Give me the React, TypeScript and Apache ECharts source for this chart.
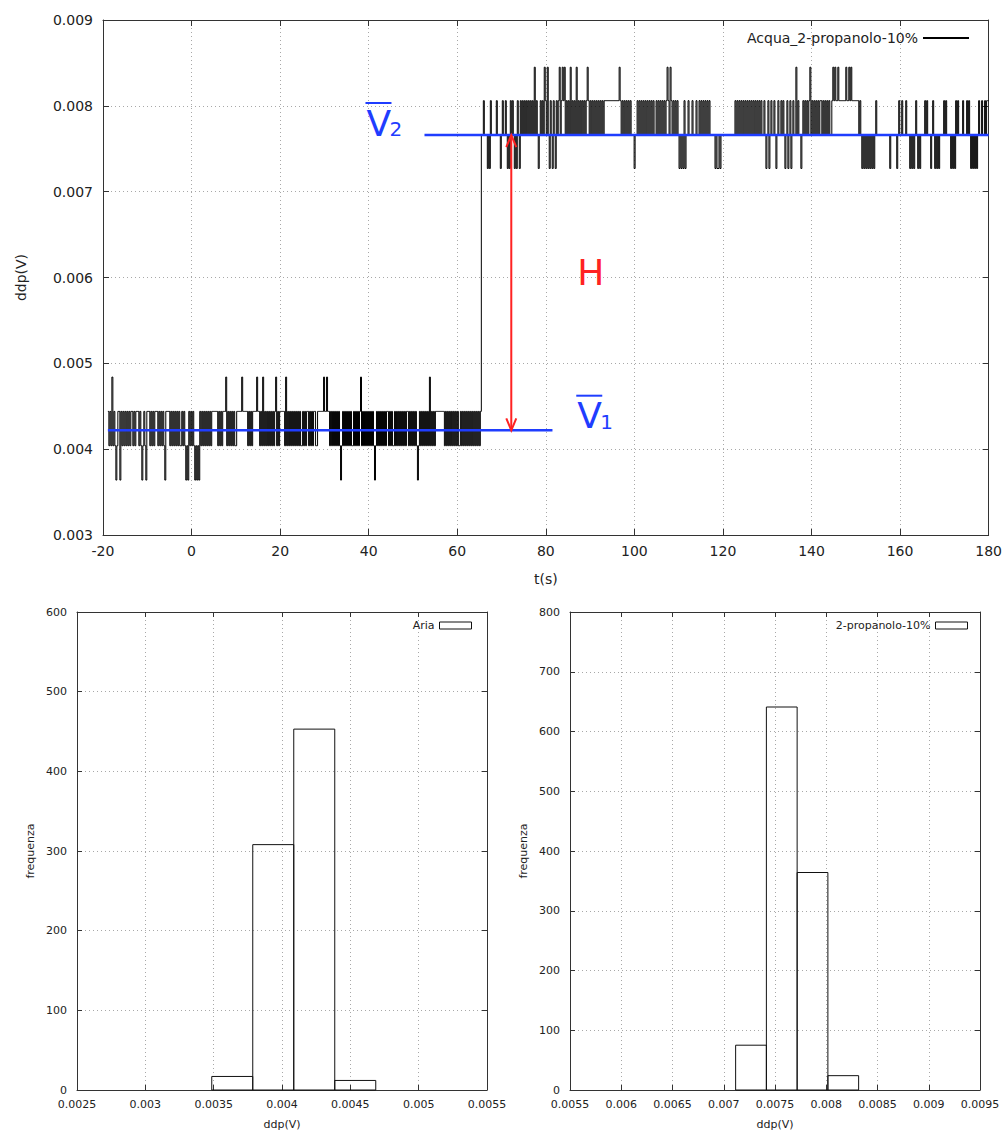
import React, { useEffect, useRef } from "react";
import * as echarts from "echarts";

// ---------- DATA ----------
// Time axis sampling of the recorded signal
const T_START = -18.9;
const T_STEP = 0.2255;

// Quantised voltage levels (V) in the two phases
const LEVELS_AIR = [0.00364, 0.00404, 0.00444, 0.00484];
const LEVELS_PROP = [0.00727, 0.00766, 0.00806, 0.00845];

// Level codes (one char per sample)
const CODES_AIR = [
  "2121312101", "2202121212", "1212212122", "2121012102", "2212121222",
  "1212121022", "2212121212", "1211212101", "0212121010", "1021212121",
  "2121222222", "1212122231", "2121212112", "2222322222", "1212122223",
  "2212131212", "1212121231", "2122222131", "2121212121", "2121121212",
  "2121212211", "2222223223", "2212121212", "1210121212", "1212112121",
  "2123121212", "1212121012", "1212121212", "2121211212", "1212121212",
  "2121212121", "0121212121", "2131212122", "2222222121", "2121212121",
  "2112121212", "1212121212", "1212",
].join("");

const CODES_PROP = [
  "1121110102", "1111121110", "1211210102", "1210102102", "1212121212",
  "1213121012", "1213213102", "1021021231", "2323121213", "1212131212",
  "1212123212", "1212121212", "1212222222", "2222222232", "1212121212",
  "1110112121", "2121212121", "2121121212", "1212123213", "2121212101",
  "0102011211", "1211121121", "2121212121", "1111010010", "1111111111",
  "1111212121", "2121212121", "2121212121", "2112101201", "2112101211",
  "2121012012", "0121131211", "0121212123", "1212121212", "2121212121",
  "1232322322", "2222232232", "3222222212", "1010101010", "1010121111",
  "1111111110", "1111110121", "1211121110", "1010121010", "1111212111",
  "0121010101", "1112121111", "0101021211", "1121112121", "0101010121",
  "121121222",
].join("");

// Mean levels
const V1 = 0.00422;
const V1_RANGE = [-18.9, 81.5];
const V2 = 0.00766;
const V2_RANGE = [52.6, 180];
const ARROW_T = 72.2;

// Annotations
const ANNOT_X = [39.5, 87.1, 87.1];
const ANNOT_Y = [0.0078, 0.00439, 0.00606];
const ANNOT_MAIN = ["V", "V", "H"];
const ANNOT_SUB = ["2", "1", ""];
const ANNOT_BAR = [true, true, false];

// Histograms
const AIR_EDGES = [0.003486, 0.003786, 0.004086, 0.004386, 0.004686];
const AIR_COUNTS = [17, 308, 453, 12];
const PROP_EDGES = [0.007116, 0.007416, 0.007716, 0.008016, 0.008316];
const PROP_COUNTS = [75, 641, 364, 24];

const SERIES_NAME = "Acqua_2-propanolo-10%";
const AIR_NAME = "Aria";
const PROP_NAME = "2-propanolo-10%";

// ---------- BUILD ----------
const FONT = "DejaVu Sans";
const BLUE = "#1f3dff";
const RED = "#ff2222";

function buildTrace(): number[][] {
  const out: number[][] = [];
  let i = 0;
  for (const c of CODES_AIR) {
    out.push([T_START + i * T_STEP, LEVELS_AIR[+c]]);
    i++;
  }
  for (const c of CODES_PROP) {
    out.push([T_START + i * T_STEP, LEVELS_PROP[+c]]);
    i++;
  }
  return out;
}

function histData(edges: number[], counts: number[]) {
  return counts.map((c, i) => [edges[i], edges[i + 1], c]);
}

const fmt = (v: number) => String(+v.toFixed(5));

function axisPair(
  grid: number,
  min: number,
  max: number,
  interval: number,
  fontSize: number,
  tickLen: number,
  name: string,
  nameGap: number,
  isX: boolean,
  labelFmt: (v: number) => string
) {
  const common = {
    gridIndex: grid,
    type: "value",
    min,
    max,
    interval,
    axisLine: { show: true, onZero: false, lineStyle: { color: "#333", width: 1 } },
    axisTick: { show: true, inside: true, length: tickLen, lineStyle: { color: "#333" } },
  };
  const main = {
    ...common,
    position: isX ? "bottom" : "left",
    name,
    nameLocation: "middle",
    nameGap,
    nameRotate: isX ? 0 : 90,
    nameTextStyle: { fontFamily: FONT, fontSize, color: "#222" },
    axisLabel: {
      fontFamily: FONT,
      fontSize,
      color: "#222",
      margin: isX ? 9 : 10,
      formatter: labelFmt,
    },
    splitLine: { show: true, lineStyle: { color: "#a8a8a8", type: [1, 3], width: 1 } },
  };
  const mirror = {
    ...common,
    position: isX ? "top" : "right",
    axisLabel: { show: false },
    splitLine: { show: false },
  };
  return [main, mirror];
}

export default function App() {
  const ref = useRef<HTMLDivElement>(null);

  useEffect(() => {
    document.body.style.margin = "0";
    if (!ref.current) return;
    const chart = echarts.init(ref.current, undefined, { renderer: "svg" });

    const [x0, x1] = axisPair(0, -20, 180, 20, 14, 6, "t(s)", 37, true, (v) => String(v));
    const [y0, y1] = axisPair(0, 0.003, 0.009, 0.001, 14, 6, "ddp(V)", 75, false, (v) => v.toFixed(3));
    const [x2, x3] = axisPair(1, 0.0025, 0.0055, 0.0005, 11, 5, "ddp(V)", 29, true, fmt);
    const [y2, y3] = axisPair(1, 0, 600, 100, 11, 5, "frequenza", 41, false, (v) => String(v));
    const [x4, x5] = axisPair(2, 0.0055, 0.0095, 0.0005, 11, 5, "ddp(V)", 29, true, fmt);
    const [y4, y5] = axisPair(2, 0, 800, 100, 11, 5, "frequenza", 41, false, (v) => String(v));

    const histRender = (params: any, api: any) => {
      const a = api.coord([api.value(0), api.value(2)]);
      const b = api.coord([api.value(1), 0]);
      return {
        type: "rect",
        shape: { x: a[0], y: a[1], width: b[0] - a[0], height: b[1] - a[1] },
        style: { fill: "none", stroke: "#111", lineWidth: 1 },
      };
    };

    const textStyle = (text: string, size: number, color: string) => ({
      text,
      fontSize: size,
      fontFamily: FONT,
      fill: color,
      textAlign: "left",
      textVerticalAlign: "middle",
      align: "left",
      verticalAlign: "middle",
    });

    const option: any = {
      animation: false,
      backgroundColor: "#fff",
      grid: [
        { left: 103, top: 20, width: 887, height: 515 },
        { left: 77, top: 612, width: 410, height: 478 },
        { left: 570, top: 612, width: 410, height: 478 },
      ],
      xAxis: [x0, x1, x2, x3, x4, x5],
      yAxis: [y0, y1, y2, y3, y4, y5],
      legend: [
        {
          data: [SERIES_NAME],
          right: 35,
          top: 31,
          padding: 0,
          align: "right",
          itemWidth: 46,
          itemHeight: 2,
          itemGap: 8,
          textStyle: { fontFamily: FONT, fontSize: 14, color: "#222" },
        },
        {
          data: [
            {
              name: AIR_NAME,
              icon: "rect",
              itemStyle: { color: "rgba(0,0,0,0)", borderColor: "#111", borderWidth: 1 },
            },
          ],
          right: 533,
          top: 620,
          padding: 0,
          align: "right",
          itemWidth: 32,
          itemHeight: 7,
          textStyle: { fontFamily: FONT, fontSize: 11, color: "#222" },
        },
        {
          data: [
            {
              name: PROP_NAME,
              icon: "rect",
              itemStyle: { color: "rgba(0,0,0,0)", borderColor: "#111", borderWidth: 1 },
            },
          ],
          right: 37,
          top: 620,
          padding: 0,
          align: "right",
          itemWidth: 32,
          itemHeight: 7,
          textStyle: { fontFamily: FONT, fontSize: 11, color: "#222" },
        },
      ],
      series: [
        {
          name: SERIES_NAME,
          type: "line",
          xAxisIndex: 0,
          yAxisIndex: 0,
          data: buildTrace(),
          symbol: "none",
          step: "end",
          lineStyle: { color: "#000", width: 1 },
          itemStyle: { color: "#000" },
        },
        {
          type: "line",
          xAxisIndex: 0,
          yAxisIndex: 0,
          data: [
            [V1_RANGE[0], V1],
            [V1_RANGE[1], V1],
          ],
          symbol: "none",
          lineStyle: { color: BLUE, width: 2.5 },
          z: 5,
        },
        {
          type: "line",
          xAxisIndex: 0,
          yAxisIndex: 0,
          data: [
            [V2_RANGE[0], V2],
            [V2_RANGE[1], V2],
          ],
          symbol: "none",
          lineStyle: { color: BLUE, width: 2.5 },
          z: 5,
        },
        {
          type: "custom",
          xAxisIndex: 0,
          yAxisIndex: 0,
          data: [[ARROW_T, V1, V2]],
          encode: { x: 0, y: [1, 2] },
          z: 6,
          renderItem: (params: any, api: any) => {
            const lo = api.coord([api.value(0), api.value(1)]);
            const hi = api.coord([api.value(0), api.value(2)]);
            const st = { stroke: RED, lineWidth: 2, fill: "none" };
            return {
              type: "group",
              children: [
                { type: "line", shape: { x1: lo[0], y1: lo[1], x2: hi[0], y2: hi[1] }, style: st },
                {
                  type: "polyline",
                  shape: { points: [[hi[0] - 5, hi[1] + 12], [hi[0], hi[1]], [hi[0] + 5, hi[1] + 12]] },
                  style: st,
                },
                {
                  type: "polyline",
                  shape: { points: [[lo[0] - 5, lo[1] - 12], [lo[0], lo[1]], [lo[0] + 5, lo[1] - 12]] },
                  style: st,
                },
              ],
            };
          },
        },
        {
          type: "custom",
          xAxisIndex: 0,
          yAxisIndex: 0,
          data: ANNOT_X.map((x, i) => [x, ANNOT_Y[i]]),
          encode: { x: 0, y: 1 },
          z: 7,
          renderItem: (params: any, api: any) => {
            const i = params.dataIndex;
            const p = api.coord([api.value(0), api.value(1)]);
            const color = ANNOT_BAR[i] ? BLUE : RED;
            const children: any[] = [
              { type: "text", x: p[0], y: p[1], style: textStyle(ANNOT_MAIN[i], 36, color) },
            ];
            if (ANNOT_SUB[i]) {
              children.push({
                type: "text",
                x: p[0] + 23,
                y: p[1] + 6,
                style: textStyle(ANNOT_SUB[i], 20, color),
              });
            }
            if (ANNOT_BAR[i]) {
              children.push({
                type: "line",
                shape: { x1: p[0] - 1, y1: p[1] - 20, x2: p[0] + 25, y2: p[1] - 20 },
                style: { stroke: color, lineWidth: 2 },
              });
            }
            return { type: "group", children };
          },
        },
        {
          name: AIR_NAME,
          type: "custom",
          xAxisIndex: 2,
          yAxisIndex: 2,
          data: histData(AIR_EDGES, AIR_COUNTS),
          encode: { x: [0, 1], y: 2 },
          itemStyle: { color: "rgba(0,0,0,0)", borderColor: "#111" },
          renderItem: histRender,
        },
        {
          name: PROP_NAME,
          type: "custom",
          xAxisIndex: 4,
          yAxisIndex: 4,
          data: histData(PROP_EDGES, PROP_COUNTS),
          encode: { x: [0, 1], y: 2 },
          itemStyle: { color: "rgba(0,0,0,0)", borderColor: "#111" },
          renderItem: histRender,
        },
      ],
    };

    chart.setOption(option);
    return () => chart.dispose();
  }, []);

  return <div ref={ref} style={{ width: 1005, height: 1132 }} />;
}
